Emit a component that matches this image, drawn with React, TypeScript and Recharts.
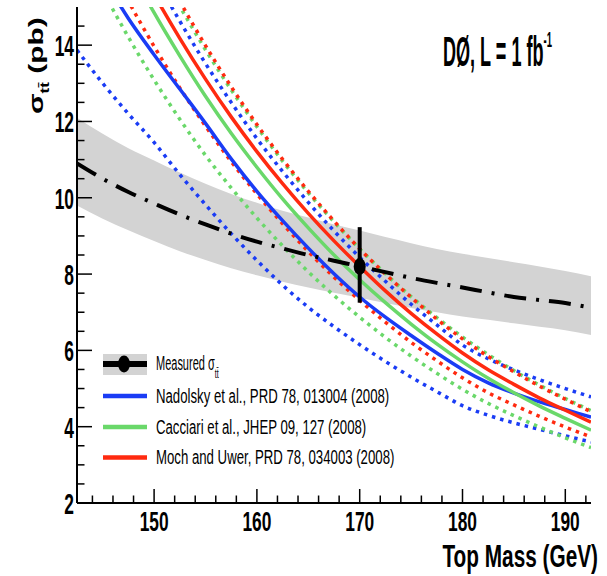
import React from 'react';
import { ComposedChart, Line, Area, Scatter, ErrorBar, XAxis, YAxis } from 'recharts';

const FONT = '"Liberation Sans", Arial, Helvetica, sans-serif';

// top mass grid (GeV)
const masses = [142.5, 145, 147.5, 150, 152.5, 155, 157.5, 160, 162.5, 165, 167.5, 170, 172.5, 175, 177.5, 180, 182.5, 185, 187.5, 190, 192.5];

// measured cross section vs mass (dash-dot) and its band
const measCentral = [10.9, 10.5, 10.15, 9.85, 9.56, 9.3, 9.06, 8.85, 8.67, 8.5, 8.35, 8.2, 8.05, 7.9, 7.77, 7.65, 7.52, 7.4, 7.32, 7.24, 7.12];
const measHigh = [12.1, 11.68, 11.3, 10.98, 10.66, 10.37, 10.1, 9.87, 9.66, 9.48, 9.3, 9.14, 8.97, 8.81, 8.66, 8.53, 8.42, 8.31, 8.2, 8.08, 7.94];
const measLow = [9.8, 9.45, 9.15, 8.87, 8.6, 8.37, 8.15, 7.97, 7.8, 7.65, 7.51, 7.38, 7.24, 7.11, 7.0, 6.89, 6.8, 6.71, 6.62, 6.53, 6.4];

// Nadolsky et al.
const nadolsky = [17.0, 15.8, 14.7, 13.75, 12.85, 11.95, 11.02, 10.17, 9.4, 8.68, 8.01, 7.4, 6.87, 6.39, 5.93, 5.5, 5.15, 4.88, 4.65, 4.45, 4.25];
const nadolskyHi = [20.0, 18.51, 17.11, 15.82, 14.63, 13.52, 12.5, 11.55, 10.69, 9.88, 9.13, 8.44, 7.81, 7.21, 6.67, 6.14, 5.78, 5.49, 5.23, 5.0, 4.78];
const nadolskyLo = [13.87, 13.0, 12.2, 11.45, 10.61, 9.82, 9.06, 8.36, 7.71, 7.13, 6.62, 6.15, 5.71, 5.3, 4.92, 4.55, 4.3, 4.1, 3.93, 3.76, 3.6];

// Cacciari et al.
const cacciari = [18.87, 17.43, 16.09, 14.85, 13.72, 12.66, 11.69, 10.8, 9.97, 9.21, 8.5, 7.85, 7.25, 6.69, 6.17, 5.7, 5.27, 4.89, 4.54, 4.22, 3.91];
const cacciariHi = [20.5, 19.0, 17.6, 16.25, 15.02, 13.88, 12.83, 11.86, 10.96, 10.13, 9.37, 8.66, 8.01, 7.41, 6.86, 6.35, 5.89, 5.47, 5.09, 4.74, 4.42];
const cacciariLo = [16.74, 15.43, 14.21, 13.09, 12.06, 11.11, 10.26, 9.47, 8.74, 8.06, 7.44, 6.87, 6.34, 5.85, 5.4, 4.98, 4.61, 4.29, 3.99, 3.71, 3.45];

// Moch and Uwer
const moch = [19.4, 17.93, 16.58, 15.33, 14.18, 13.11, 12.12, 11.21, 10.37, 9.59, 8.87, 8.2, 7.56, 6.97, 6.43, 5.93, 5.49, 5.11, 4.75, 4.43, 4.12];
const mochHi = [20.8, 19.24, 17.77, 16.4, 15.15, 13.99, 12.91, 11.92, 11.01, 10.17, 9.39, 8.66, 8.0, 7.39, 6.82, 6.3, 5.84, 5.44, 5.06, 4.72, 4.39];
const mochLo = [17.81, 16.42, 15.15, 13.97, 12.88, 11.88, 10.95, 10.1, 9.32, 8.59, 7.92, 7.31, 6.74, 6.21, 5.73, 5.28, 4.89, 4.57, 4.27, 3.99, 3.73];

// measured point
const measuredPoint = [{ m: 170, s: 8.2, err: [0.95, 1.03] }];

const xTicks = [144, 146, 148, 150, 152, 154, 156, 158, 160, 162, 164, 166, 168, 170, 172, 174, 176, 178, 180, 182, 184, 186, 188, 190, 192];
const yTicks = [2, 2.5, 3, 3.5, 4, 4.5, 5, 5.5, 6, 6.5, 7, 7.5, 8, 8.5, 9, 9.5, 10, 10.5, 11, 11.5, 12, 12.5, 13, 13.5, 14, 14.5];

const BLUE = '#1a3cf5';
const GREEN = '#6ad86a';
const RED = '#ff2a10';
const BAND = '#d3d3d3';

const rows = masses.map((m, i) => ({
  m,
  band: [measLow[i], measHigh[i]],
  meas: measCentral[i],
  nad: nadolsky[i], nadHi: nadolskyHi[i], nadLo: nadolskyLo[i],
  cac: cacciari[i], cacHi: cacciariHi[i], cacLo: cacciariLo[i],
  moch: moch[i], mochHi: mochHi[i], mochLo: mochLo[i],
}));

const CText = ({ x, y, size, sx = 1, sy = 1, anchor = 'start', weight = 'normal', children }: any) => (
  <text
    transform={`translate(${x},${y}) scale(${sx},${sy})`}
    fontSize={size}
    fontWeight={weight}
    textAnchor={anchor}
    fontFamily={FONT}
    fill="#000"
  >
    {children}
  </text>
);

const XTick = (props: any) => {
  const { x, y, payload } = props;
  const v = payload.value;
  const major = v % 10 === 0;
  return (
    <g>
      <line x1={x} x2={x} y1={y} y2={y - (major ? 14 : 7.5)} stroke="#000" strokeWidth={1.5} />
      {major && (
        <CText x={x} y={y + 28} size={28} sx={0.62} anchor="middle" weight="bold">
          {v}
        </CText>
      )}
    </g>
  );
};

const YTick = (props: any) => {
  const { x, y, payload } = props;
  const v = payload.value;
  const major = v % 2 === 0;
  return (
    <g>
      <line x1={x} x2={x + (major ? 15 : 7.5)} y1={y} y2={y} stroke="#000" strokeWidth={1.5} />
      {major && (
        <CText x={x - 3} y={y + 11} size={29} sx={0.6} anchor="end" weight="bold">
          {v}
        </CText>
      )}
    </g>
  );
};

const dotted = { strokeWidth: 3.5, strokeDasharray: '3.5 5' };

const Overlay = () => (
  <svg width={607} height={576} style={{ position: 'absolute', left: 0, top: 0, pointerEvents: 'none' }}>
    {/* title */}
    <text transform="translate(443,66) scale(0.43,1)" fontSize={42} fontWeight="bold" fontFamily={FONT} fill="#000">
      DØ, L = 1 fb<tspan fontSize={22} dy={-19}>-1</tspan>
    </text>

    {/* axis titles */}
    <CText x={598} y={567} size={32} sx={0.65} anchor="end" weight="bold">Top Mass (GeV)</CText>
    <text transform="translate(43,114) rotate(-90) scale(1,0.7)" fontSize={30} fontWeight="bold" fontFamily={FONT}>
      σ<tspan fontSize={17} dy={8}>tt̄</tspan>
      <tspan dy={-8}> (pb)</tspan>
    </text>

    {/* legend */}
    <rect x={103} y={354} width={44} height={21} fill={BAND} />
    <line x1={103} x2={147} y1={364} y2={364} stroke="#000" strokeWidth={6} />
    <ellipse cx={124} cy={364} rx={6} ry={8.5} fill="#000" />
    <text transform="translate(156,370) scale(0.55,1)" fontSize={20} fontFamily={FONT} fill="#000">
      Measured σ<tspan fontSize={13} dy={8}>tt̄</tspan>
    </text>

    <line x1={103} x2={147} y1={396} y2={396} stroke={BLUE} strokeWidth={4.5} />
    <CText x={156} y={403} size={20} sx={0.66}>Nadolsky et al., PRD 78, 013004 (2008)</CText>

    <line x1={103} x2={147} y1={427} y2={427} stroke={GREEN} strokeWidth={4.5} />
    <CText x={156} y={434} size={20} sx={0.66}>Cacciari et al., JHEP 09, 127 (2008)</CText>

    <line x1={103} x2={147} y1={457.5} y2={457.5} stroke={RED} strokeWidth={4.5} />
    <CText x={156} y={464} size={20} sx={0.66}>Moch and Uwer, PRD 78, 034003 (2008)</CText>
  </svg>
);

const App: React.FC = () => (
  <div style={{ position: 'absolute', left: 0, top: 0, width: 607, height: 576, background: '#fff' }}>
    <ComposedChart width={607} height={576} data={rows} margin={{ top: 7, right: 16, bottom: 33, left: 0 }}>
      <XAxis
        dataKey="m"
        type="number"
        domain={[142.5, 192.5]}
        allowDataOverflow
        ticks={xTicks}
        interval={0}
        tickLine={false}
        tickSize={0}
        tickMargin={0}
        tick={<XTick />}
        height={40}
        axisLine={{ stroke: '#000', strokeWidth: 2 }}
      />
      <XAxis
        xAxisId="top"
        orientation="top"
        dataKey="m"
        type="number"
        domain={[142.5, 192.5]}
        height={0}
        tick={false}
        tickLine={false}
        axisLine={{ stroke: '#000', strokeWidth: 2 }}
      />
      <YAxis
        type="number"
        domain={[2, 15]}
        allowDataOverflow
        ticks={yTicks}
        interval={0}
        tickLine={false}
        tickSize={0}
        tickMargin={0}
        tick={<YTick />}
        width={77}
        axisLine={{ stroke: '#000', strokeWidth: 2 }}
      />
      <YAxis
        yAxisId="right"
        orientation="right"
        type="number"
        domain={[2, 15]}
        width={0}
        tick={false}
        tickLine={false}
        axisLine={{ stroke: '#000', strokeWidth: 2 }}
      />

      <Area dataKey="band" type="monotone" fill={BAND} fillOpacity={1} stroke="none" isAnimationActive={false} />

      <Line dataKey="nadHi" type="monotone" stroke={BLUE} {...dotted} dot={false} activeDot={false} isAnimationActive={false} />
      <Line dataKey="nadLo" type="monotone" stroke={BLUE} {...dotted} dot={false} activeDot={false} isAnimationActive={false} />
      <Line dataKey="cacHi" type="monotone" stroke={GREEN} {...dotted} dot={false} activeDot={false} isAnimationActive={false} />
      <Line dataKey="cacLo" type="monotone" stroke={GREEN} {...dotted} dot={false} activeDot={false} isAnimationActive={false} />
      <Line dataKey="mochHi" type="monotone" stroke={RED} {...dotted} dot={false} activeDot={false} isAnimationActive={false} />
      <Line dataKey="mochLo" type="monotone" stroke={RED} {...dotted} dot={false} activeDot={false} isAnimationActive={false} />

      <Line dataKey="nad" type="monotone" stroke={BLUE} strokeWidth={3.5} dot={false} activeDot={false} isAnimationActive={false} />
      <Line dataKey="cac" type="monotone" stroke={GREEN} strokeWidth={3.5} dot={false} activeDot={false} isAnimationActive={false} />
      <Line dataKey="moch" type="monotone" stroke={RED} strokeWidth={3.5} dot={false} activeDot={false} isAnimationActive={false} />

      <Line dataKey="meas" type="monotone" stroke="#000" strokeWidth={4} strokeDasharray="22 10 3 10" dot={false} activeDot={false} isAnimationActive={false} />

      <Scatter
        data={measuredPoint}
        dataKey="s"
        isAnimationActive={false}
        shape={(p: any) => <ellipse cx={p.cx} cy={p.cy} rx={6} ry={8.5} fill="#000" />}
      >
        <ErrorBar dataKey="err" direction="y" width={0} stroke="#000" strokeWidth={4} isAnimationActive={false} />
      </Scatter>
    </ComposedChart>
    <Overlay />
  </div>
);

export default App;
